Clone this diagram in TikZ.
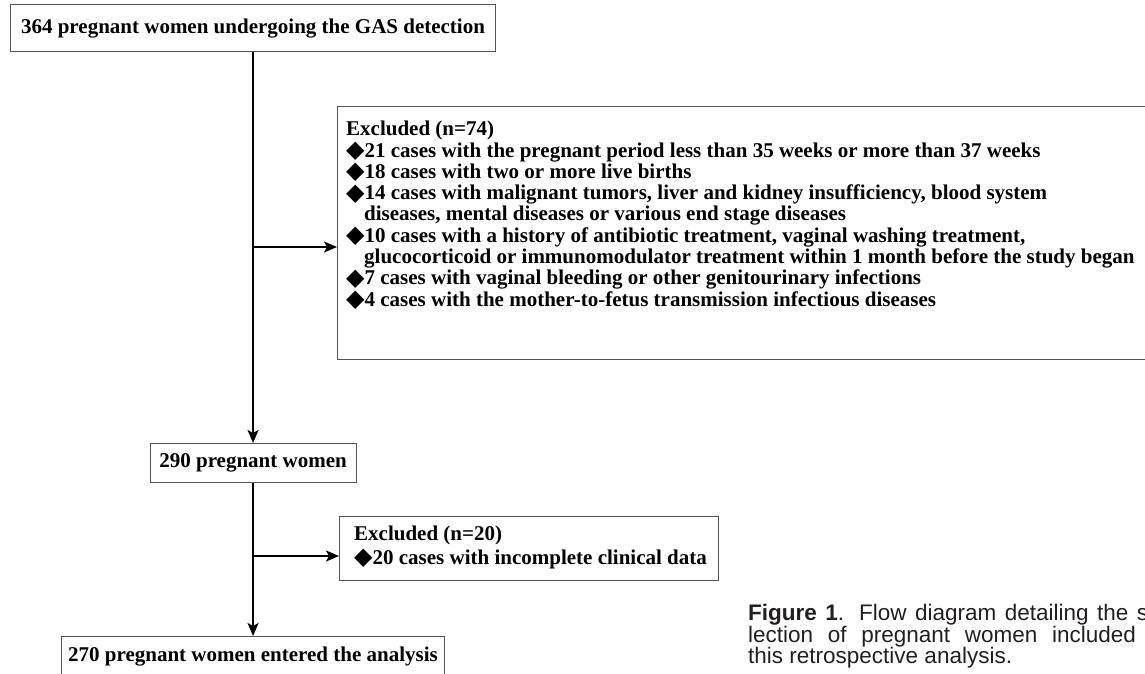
\documentclass[tikz,border=0pt]{standalone}
\usepackage{fontspec}
\setmainfont{Liberation Serif}
\newfontfamily\capfont{Liberation Sans}
\newfontfamily\symfont{DejaVu Sans}
\usetikzlibrary{arrows.meta}
\definecolor{boxgray}{HTML}{555555}
\definecolor{captext}{HTML}{231F20}
\newcommand{\dia}{{\symfont\fontsize{24}{24}\selectfont\raisebox{-0.5pt}{\char"25C6}}}
\begin{document}
\begin{tikzpicture}[x=1pt,y=-1pt,
  box/.style={draw=boxgray, line width=1.1pt, inner sep=0pt, anchor=north west},
  boxfont/.style={font=\bfseries\fontsize{21}{21.3}\selectfont},
  txt/.style={boxfont, inner sep=0pt, align=left, anchor=north west},
  flow/.style={line width=1.8pt, -{Stealth[length=13pt,width=11pt,inset=3pt]}},
  captionstyle/.style={font=\capfont\fontsize{22.5}{21.5}\selectfont, text=captext, inner sep=0pt, align=left, anchor=north west}]
\useasboundingbox (0,0) rectangle (1145,674);
\clip (0,0) rectangle (1145,674);
% boxes
\node[box, boxfont, minimum width=485pt, minimum height=47pt] (top) at (10,4) {364 pregnant women undergoing the GAS detection};
\node[box, minimum width=830pt, minimum height=253pt] (ex1) at (337,106) {};
\node[txt] (ex1t) at (346,121) {Excluded (n=74)\\
\dia21 cases with the pregnant period less than 35 weeks or more than 37 weeks\\
\dia18 cases with two or more live births\\
\dia14 cases with malignant tumors, liver and kidney insufficiency, blood system\\
\hspace*{18pt}diseases, mental diseases or various end stage diseases\\
\dia10 cases with a history of antibiotic treatment, vaginal washing treatment,\\
\hspace*{18pt}glucocorticoid or immunomodulator treatment within 1 month before the study began\\
\dia7 cases with vaginal bleeding or other genitourinary infections\\
\dia4 cases with the mother-to-fetus transmission infectious diseases};
\node[box, boxfont, minimum width=206pt, minimum height=39pt] (p290) at (149.5,443) {290 pregnant women};
\node[box, minimum width=379pt, minimum height=64pt] (ex2) at (339,516) {};
\node[txt, font=\bfseries\fontsize{21}{23.5}\selectfont] (ex2t) at (354,526) {Excluded (n=20)\\ \dia20 cases with incomplete clinical data};
\node[box, minimum width=383pt, minimum height=60pt] (b270) at (61,636) {};
\node[boxfont, inner sep=0pt, anchor=west] (t270) at (68,657) {270 pregnant women entered the analysis};
% connectors
\coordinate (br1) at (252.5,247);
\coordinate (br2) at (252.5,556);
\draw[flow] (top.south) -- (p290.north);
\draw[flow] (br1) -- (br1 -| ex1.west);
\draw[flow] (p290.south) -- (b270.north);
\draw[flow] (br2) -- (br2 -| ex2.west);
% caption
\node[captionstyle] (caption) at (748,604) {\makebox[420pt][s]{\textbf{Figure 1}. Flow diagram detailing the se-}\\
\makebox[420pt][s]{lection of pregnant women included in}\\
this retrospective analysis.};
\end{tikzpicture}
\end{document}
